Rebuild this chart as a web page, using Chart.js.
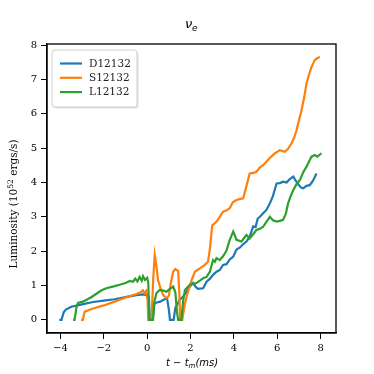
<!DOCTYPE html>
<html>
<head>
<meta charset="utf-8">
<script src="https://cdn.jsdelivr.net/npm/chart.js@4"></script>
<style>
  html, body { margin: 0; padding: 0; background: #fff; }
  #wrap { width: 374px; height: 374px; }
</style>
</head>
<body>
<div id="wrap"><canvas id="chart" width="374" height="374"></canvas></div>
<script>
// Neutrino luminosity (nu_e) vs time after merger, three runs

const seriesNames = ['D12132', 'S12132', 'L12132'];
const seriesColors = ['#1f77b4', '#ff7f0e', '#2ca02c'];

const dTime = [-4.05, -3.95, -3.85, -3.75, -3.5, -3.0, -2.5, -2.0, -1.5, -1.0, -0.5, -0.2, 0.0, 0.08, 0.12,
  0.26, 0.33, 0.4, 0.6, 0.8, 0.92, 1.0, 1.05, 1.22, 1.3, 1.5, 1.66, 1.8, 1.97, 2.12, 2.25, 2.35, 2.58,
  2.74, 2.9, 3.04, 3.2, 3.35, 3.5, 3.66, 3.8, 3.97, 4.12, 4.27, 4.43, 4.58, 4.73, 4.89, 5.0, 5.1, 5.2,
  5.35, 5.5, 5.66, 5.8, 5.97, 6.12, 6.27, 6.43, 6.55, 6.74, 6.85, 7.0, 7.1, 7.2, 7.35, 7.5, 7.65, 7.81];
const dLum = [0, 0, 0.22, 0.3, 0.38, 0.45, 0.52, 0.56, 0.6, 0.66, 0.72, 0.74, 0.72, 0.65, 0,
  0, 0.45, 0.5, 0.53, 0.6, 0.62, 0.3, 0, 0, 0.35, 0.58, 0.68, 0.8, 0.97, 1.07, 0.95, 0.9, 0.92,
  1.11, 1.2, 1.31, 1.4, 1.45, 1.6, 1.62, 1.75, 1.84, 2.05, 2.1, 2.2, 2.28, 2.42, 2.72, 2.7, 2.95, 3.0,
  3.1, 3.2, 3.39, 3.6, 3.97, 3.98, 4.02, 4.0, 4.08, 4.17, 4.05, 3.92, 3.85, 3.83, 3.9, 3.92, 4.05, 4.26];

const sTime = [-3.05, -2.97, -2.88, -2.5, -2.0, -1.5, -1.0, -0.5, -0.3, -0.2, -0.12, -0.05, 0.02, 0.05, 0.2, 0.28,
  0.35, 0.42, 0.5, 0.6, 0.73, 0.89, 1.0, 1.1, 1.2, 1.3, 1.43, 1.48, 1.52, 1.62, 1.72, 1.82, 1.95, 2.05,
  2.2, 2.43, 2.66, 2.81, 2.9, 3.0, 3.1, 3.2, 3.35, 3.5, 3.65, 3.81, 3.95, 4.12, 4.3, 4.43, 4.58, 4.73,
  4.9, 5.04, 5.2, 5.35, 5.5, 5.66, 5.9, 6.12, 6.35, 6.5, 6.66, 6.78, 6.89, 7.0, 7.12, 7.25, 7.35, 7.47,
  7.58, 7.73, 7.85, 7.97];
const sLum = [0, 0, 0.24, 0.33, 0.42, 0.53, 0.65, 0.75, 0.8, 0.86, 0.78, 0.84, 0.6, 0, 0, 1.2,
  1.89, 1.6, 1.16, 0.95, 0.73, 0.63, 0.7, 1.1, 1.4, 1.48, 1.42, 0.8, 0, 0, 0.4, 0.68, 0.95, 1.16,
  1.4, 1.5, 1.6, 1.7, 2.1, 2.75, 2.8, 2.86, 3.0, 3.15, 3.18, 3.25, 3.42, 3.49, 3.52, 3.54, 3.9, 4.26,
  4.28, 4.31, 4.44, 4.5, 4.6, 4.72, 4.85, 4.94, 4.89, 4.98, 5.14, 5.3, 5.52, 5.8, 6.1, 6.5, 6.88, 7.15,
  7.36, 7.56, 7.62, 7.65];

const lTime = [-3.42, -3.35, -3.25, -3.19, -2.96, -2.6, -2.34, -2.1, -1.88, -1.5, -1.27, -1.0, -0.8, -0.65,
  -0.55, -0.45, -0.35, -0.25, -0.19, -0.1, 0.0, 0.05, 0.1, 0.27, 0.32, 0.43, 0.58, 0.75, 0.89, 1.05, 1.2,
  1.3, 1.38, 1.43, 1.58, 1.65, 1.74, 1.97, 2.27, 2.45, 2.58, 2.74, 2.89, 3.04, 3.12, 3.2, 3.35, 3.5, 3.65,
  3.81, 3.97, 4.05, 4.12, 4.35, 4.58, 4.73, 4.9, 5.04, 5.2, 5.35, 5.5, 5.66, 5.8, 5.97, 6.12, 6.27, 6.4,
  6.5, 6.62, 6.74, 6.89, 7.05, 7.2, 7.35, 7.5, 7.58, 7.73, 7.85, 8.04];
const lLum = [0, 0, 0.4, 0.49, 0.53, 0.65, 0.76, 0.86, 0.92, 0.98, 1.02, 1.07, 1.13, 1.11,
  1.2, 1.12, 1.25, 1.14, 1.27, 1.16, 1.22, 1.1, 0, 0, 0.5, 0.78, 0.87, 0.85, 0.82, 0.9, 0.97,
  0.8, 0.2, 0, 0, 0.5, 0.87, 1.02, 1.07, 1.15, 1.21, 1.25, 1.4, 1.74, 1.69, 1.8, 1.74, 1.85, 2.0,
  2.33, 2.57, 2.45, 2.33, 2.28, 2.47, 2.37, 2.5, 2.62, 2.65, 2.71, 2.85, 3.0, 2.9, 2.86, 2.88, 2.91, 3.1,
  3.39, 3.6, 3.78, 3.95, 4.07, 4.3, 4.46, 4.65, 4.75, 4.8, 4.75, 4.85];

const xTicks = [-4, -2, 0, 2, 4, 6, 8];
const yTicks = [0, 1, 2, 3, 4, 5, 6, 7, 8];

const serif = '"DejaVu Serif", serif';

function toPoints(xs, ys) {
    return xs.map((x, i) => ({ x: x, y: ys[i] }));
}

function fmtMinus(v) {
    return v < 0 ? '\u2212' + Math.abs(v) : String(v);
}

// frame, title, axis labels and legend box drawn like matplotlib
const decorations = {
    id: 'decorations',
    afterDraw(chart) {
        const ctx = chart.ctx;
        const a = chart.chartArea;
        ctx.save();

        ctx.strokeStyle = '#000';
        ctx.lineWidth = 1.3;
        ctx.strokeRect(a.left, a.top, a.right - a.left, a.bottom - a.top);

        // title nu_e
        ctx.fillStyle = '#000';
        ctx.textBaseline = 'alphabetic';
        ctx.textAlign = 'left';
        ctx.font = 'italic 13px "DejaVu Sans"';
        ctx.fillText('\u03bd', 185, 28);
        ctx.font = 'italic 9px "DejaVu Sans"';
        ctx.fillText('e', 192, 31);

        // x axis title
        ctx.font = 'italic 10px "DejaVu Sans"';
        let x0 = 166;
        ctx.fillText('t \u2212 t', x0, 366);
        let w = ctx.measureText('t \u2212 t').width;
        ctx.font = 'italic 7px "DejaVu Sans"';
        ctx.fillText('m', x0 + w, 368);
        let w2 = ctx.measureText('m').width;
        ctx.font = 'italic 10px "DejaVu Sans"';
        ctx.fillText('(ms)', x0 + w + w2, 366);

        // y axis title
        ctx.translate(17, 204);
        ctx.rotate(-Math.PI / 2);
        const p1 = 'Luminosity (10', p2 = '52', p3 = ' ergs/s)';
        ctx.font = '10.5px ' + serif;
        const w1 = ctx.measureText(p1).width;
        const w3 = ctx.measureText(p3).width;
        ctx.font = '7.5px ' + serif;
        const wSup = ctx.measureText(p2).width;
        let sx = -(w1 + wSup + w3) / 2;
        ctx.font = '10.5px ' + serif;
        ctx.fillText(p1, sx, 0);
        ctx.font = '7.5px ' + serif;
        ctx.fillText(p2, sx + w1, -4);
        ctx.font = '10.5px ' + serif;
        ctx.fillText(p3, sx + w1 + wSup, 0);
        ctx.setTransform(1, 0, 0, 1, 0, 0);

        // legend
        const lx = 52, ly = 50, lw = 85, lh = 57;
        ctx.fillStyle = 'rgba(0,0,0,0.12)';
        ctx.beginPath();
        ctx.roundRect(lx + 1.5, ly + 1.5, lw, lh, 3);
        ctx.fill();
        ctx.fillStyle = '#fff';
        ctx.strokeStyle = '#d0d0d0';
        ctx.lineWidth = 1;
        ctx.beginPath();
        ctx.roundRect(lx, ly, lw, lh, 3);
        ctx.fill();
        ctx.stroke();
        ctx.font = '10.5px ' + serif;
        ctx.textBaseline = 'middle';
        seriesNames.forEach((name, i) => {
            const y = 63.5 + i * 14.3;
            ctx.strokeStyle = seriesColors[i];
            ctx.lineWidth = 2.2;
            ctx.beginPath();
            ctx.moveTo(60, y);
            ctx.lineTo(82, y);
            ctx.stroke();
            ctx.fillStyle = '#222';
            ctx.fillText(name, 89, y + 0.5);
        });
        ctx.restore();
    }
};

const series = [toPoints(dTime, dLum), toPoints(sTime, sLum), toPoints(lTime, lLum)];

new Chart(document.getElementById('chart'), {
    type: 'scatter',
    data: {
        datasets: seriesNames.map((name, i) => ({
            label: name,
            data: series[i],
            showLine: true,
            borderColor: seriesColors[i],
            backgroundColor: seriesColors[i],
            borderWidth: 2.2,
            pointRadius: 0,
            tension: 0,
            order: 2 - i
        }))
    },
    options: {
        responsive: false,
        animation: false,
        layout: { padding: { left: 0, top: 44, right: 38, bottom: 0 } },
        plugins: {
            legend: { display: false },
            title: { display: false },
            tooltip: { enabled: false }
        },
        scales: {
            x: {
                type: 'linear',
                min: -4.62,
                max: 8.71,
                afterBuildTicks: scale => { scale.ticks = xTicks.map(v => ({ value: v })); },
                afterFit: scale => { scale.height = 41; },
                grid: { display: true, drawOnChartArea: false, drawTicks: true, tickLength: 6, color: '#000', lineWidth: 1 },
                border: { display: true, color: '#000', width: 1.3 },
                ticks: {
                    color: '#000',
                    font: { family: serif, size: 10 },
                    padding: 3,
                    maxRotation: 0,
                    callback: v => fmtMinus(v)
                }
            },
            y: {
                type: 'linear',
                min: -0.383,
                max: 8.03,
                afterBuildTicks: scale => { scale.ticks = yTicks.map(v => ({ value: v })); },
                afterFit: scale => { scale.width = 47; },
                grid: { display: true, drawOnChartArea: false, drawTicks: true, tickLength: 6, color: '#000', lineWidth: 1 },
                border: { display: true, color: '#000', width: 1.3 },
                ticks: {
                    color: '#000',
                    font: { family: serif, size: 10 },
                    padding: 4,
                    callback: v => fmtMinus(v)
                }
            }
        }
    },
    plugins: [decorations]
});
</script>
</body>
</html>
